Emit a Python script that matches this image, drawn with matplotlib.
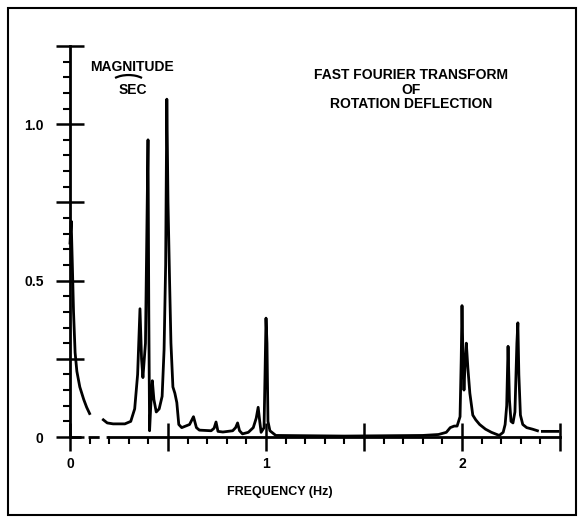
import numpy as np
import matplotlib
matplotlib.use("Agg")
import matplotlib.pyplot as plt
from matplotlib.patches import Rectangle, Arc
from matplotlib.ticker import MultipleLocator

plt.rcParams['font.family'] = ['Liberation Sans', 'DejaVu Sans']
plt.rcParams['font.weight'] = 'bold'

# spectrum (Hz, magnitude); nan = break in the trace
freq = [0.000, 0.006, 0.012, 0.018, 0.026, 0.035, 0.050, 0.070, 0.085, 0.100,
        np.nan,
        0.170, 0.190, 0.220, 0.280, 0.310, 0.330, 0.345, 0.357, 0.365, 0.372,
        0.385, 0.393, 0.398, 0.402, 0.406, 0.412, 0.420, 0.428, 0.440, 0.455,
        0.470, 0.480, 0.488, 0.494, 0.500, 0.508, 0.515, 0.525, 0.535, 0.545,
        0.555, 0.570, 0.590, 0.610, 0.630, 0.645, 0.660, 0.720, 0.735, 0.745,
        0.755, 0.780, 0.830, 0.845, 0.855, 0.865, 0.880, 0.910, 0.935, 0.950,
        0.960, 0.968, 0.975, 0.990, 0.995, 1.000, 1.005, 1.010, 1.020, 1.050,
        1.400, 1.800, 1.880, 1.920, 1.940, 1.960, 1.975, 1.990, 1.996, 2.000,
        2.005, 2.010, 2.016, 2.022, 2.030, 2.040, 2.055, 2.070, 2.090, 2.120,
        2.150, 2.190, 2.210, 2.220, 2.228, 2.235, 2.242, 2.250, 2.260, 2.270,
        2.280, 2.285, 2.290, 2.298, 2.310, 2.330, 2.360, 2.385,
        np.nan,
        2.410, 2.490]
mag = [0.62, 0.69, 0.55, 0.40, 0.27, 0.21, 0.16, 0.12, 0.095, 0.075,
       np.nan,
       0.055, 0.045, 0.042, 0.042, 0.050, 0.090, 0.20, 0.41, 0.25, 0.19,
       0.30, 0.70, 0.95, 0.40, 0.02, 0.10, 0.18, 0.12, 0.08, 0.09,
       0.13, 0.28, 0.55, 1.08, 0.75, 0.50, 0.30, 0.16, 0.14, 0.11,
       0.04, 0.03, 0.035, 0.04, 0.065, 0.03, 0.022, 0.02, 0.028, 0.048,
       0.018, 0.016, 0.02, 0.03, 0.045, 0.02, 0.01, 0.015, 0.03, 0.06,
       0.095, 0.05, 0.015, 0.03, 0.20, 0.38, 0.30, 0.05, 0.02, 0.005,
       0.003, 0.005, 0.008, 0.015, 0.03, 0.035, 0.035, 0.065, 0.25, 0.42,
       0.25, 0.15, 0.24, 0.30, 0.22, 0.14, 0.07, 0.055, 0.04, 0.025,
       0.015, 0.005, 0.015, 0.04, 0.10, 0.29, 0.12, 0.05, 0.045, 0.08,
       0.30, 0.365, 0.20, 0.07, 0.04, 0.03, 0.025, 0.02,
       np.nan,
       0.018, 0.018]

xticks = [0, 0.5, 1, 1.5, 2, 2.5]
xticklabels = ['0', '', '1', '', '2', '']
yticks = [0, 0.25, 0.5, 0.75, 1.0, 1.25]
yticklabels = ['0', '', '0.5', '', '1.0', '']

fig = plt.figure(figsize=(5.79, 5.25), dpi=100)
ax = fig.add_axes([0.1209, 0.1676, 0.8463, 0.7448])

ax.plot(freq, mag, color='black', lw=2.0, clip_on=False)

ax.set_xlim(0, 2.5)
ax.set_ylim(0, 1.25)
for s in ['top', 'right']:
    ax.spines[s].set_visible(False)
ax.spines['left'].set_linewidth(2)
ax.spines['bottom'].set_linewidth(2)
# first bit of the frequency axis is broken up in the scan
ax.spines['bottom'].set_bounds(0.2, 2.5)
ax.axhline(0, xmin=0, xmax=0.08, color='black', lw=2, ls=(0, (4, 2.5)), clip_on=False)

ax.set_xticks(xticks)
ax.set_xticklabels(xticklabels)
ax.set_yticks(yticks)
ax.set_yticklabels(yticklabels)
ax.xaxis.set_minor_locator(MultipleLocator(0.1))
ax.yaxis.set_minor_locator(MultipleLocator(0.05))
ax.tick_params(which='major', direction='inout', length=20, width=1.8, labelsize=10)
ax.tick_params(axis='x', which='major', pad=4.4)
ax.tick_params(axis='y', which='major', pad=9)
ax.tick_params(which='minor', direction='out', length=5, width=1.5)

fig.text(0.4836, 0.063, 'FREQUENCY (Hz)', ha='center', va='center', fontsize=9, fontweight='bold')
fig.text(0.228, 0.872, 'MAGNITUDE', ha='center', va='center', fontsize=10, fontweight='bold')
fig.text(0.23, 0.829, 'SEC', ha='center', va='center', fontsize=10, fontweight='bold')
fig.patches.append(Arc((0.222, 0.838), 38 / 579, 20 / 525, theta1=30, theta2=150,
                       transform=fig.transFigure, color='black', lw=1.6))
fig.text(0.71, 0.829, 'FAST FOURIER TRANSFORM\nOF\nROTATION DEFLECTION',
         ha='center', va='center', fontsize=10, fontweight='bold', linespacing=1.05)

# outer frame of the figure
fig.patches.append(Rectangle((0.014, 0.019), 0.981, 0.966, transform=fig.transFigure,
                             fill=False, color='black', lw=1.5))

fig.savefig('out.png', dpi=100)
